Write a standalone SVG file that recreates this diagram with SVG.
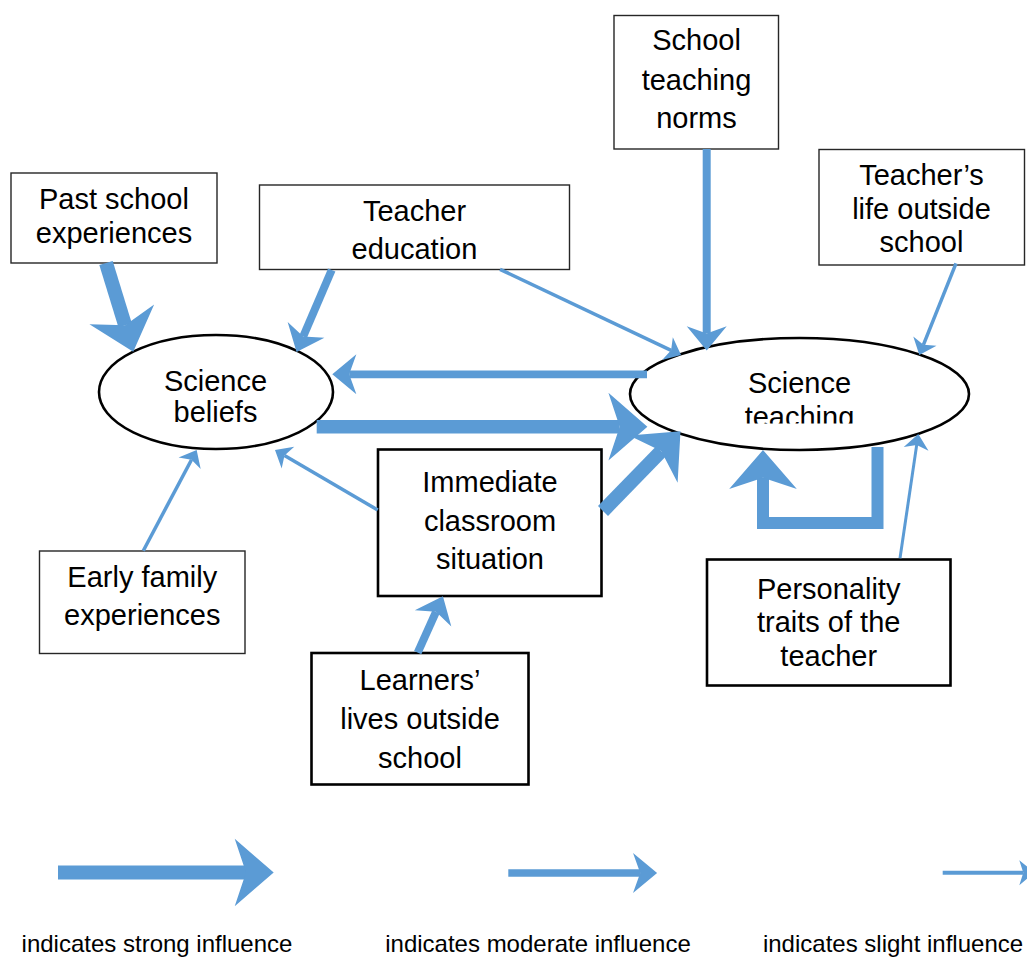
<svg xmlns="http://www.w3.org/2000/svg" width="1027" height="958" viewBox="0 0 1027 958">
<style>
.bg{fill:#ffffff}
.box{fill:#ffffff;stroke:#262626;stroke-width:1.4}
.boxb{fill:#ffffff;stroke:#000000;stroke-width:2.6}
.ell{fill:#ffffff;stroke:#000000;stroke-width:2.6}
text{font-family:"Liberation Sans",Arial,sans-serif;font-size:29px;fill:#000000;text-anchor:middle}
.leg{font-size:24px}
.c{fill:none;stroke:#5B9BD5;stroke-linecap:butt;stroke-linejoin:miter}
.s{stroke-width:14;marker-end:url(#mS)}
.m{stroke-width:8;marker-end:url(#mM)}
.l{stroke-width:3.5;marker-end:url(#mL)}
</style>
<defs>
<marker id="mS" markerUnits="userSpaceOnUse" markerWidth="40" markerHeight="70" viewBox="0 -34 39 68" refX="11" refY="0" orient="auto" overflow="visible">
<path d="M0,-33 L38,0 L0,33 L11,0 Z" fill="#5B9BD5"/>
</marker>
<marker id="mM" markerUnits="userSpaceOnUse" markerWidth="25" markerHeight="41" viewBox="0 -20 24 40" refX="7" refY="0" orient="auto" overflow="visible">
<path d="M0,-19.5 L23.5,0 L0,19.5 L7,0 Z" fill="#5B9BD5"/>
</marker>
<marker id="mL" markerUnits="userSpaceOnUse" markerWidth="16" markerHeight="26" viewBox="0 -13 16 26" refX="4" refY="0" orient="auto" overflow="visible">
<path d="M0,-12.5 L15,0 L0,12.5 L4,0 Z" fill="#5B9BD5"/>
</marker>
<clipPath id="clipTeach"><rect x="690" y="355" width="220" height="68.5"/></clipPath>
</defs>
<rect class="bg" x="0" y="0" width="1027" height="958"/>

<g id="node-past-school">
<rect class="box" x="11" y="173" width="206" height="90"/>
<text x="114" y="209">Past school</text>
<text x="114" y="243">experiences</text>
</g>
<g id="node-teacher-education">
<rect class="box" x="259.5" y="185" width="310" height="84.5"/>
<text x="414.5" y="220.7">Teacher</text>
<text x="414.5" y="259.3">education</text>
</g>
<g id="node-school-norms">
<rect class="box" x="614" y="15.5" width="164.5" height="133.5"/>
<text x="696.5" y="50">School</text>
<text x="696.5" y="89.5">teaching</text>
<text x="696.5" y="128">norms</text>
</g>
<g id="node-teacher-life">
<rect class="box" x="819" y="149.5" width="205.5" height="115.5"/>
<text x="921.5" y="185">Teacher’s</text>
<text x="921.5" y="219">life outside</text>
<text x="921.5" y="252">school</text>
</g>
<g id="node-science-beliefs">
<ellipse class="ell" cx="216" cy="392" rx="117" ry="57"/>
<text x="215.5" y="390.7">Science</text>
<text x="215.5" y="421.7">beliefs</text>
</g>
<g id="node-science-teaching">
<ellipse class="ell" cx="799.5" cy="394" rx="169.5" ry="56"/>
<g clip-path="url(#clipTeach)">
<text x="799.5" y="392.7">Science</text>
<text x="799.5" y="426.7">teaching</text>
</g>
</g>
<g id="node-early-family">
<rect class="box" x="39.5" y="551" width="205.5" height="102.5"/>
<text x="142.3" y="587.3">Early family</text>
<text x="142.3" y="625">experiences</text>
</g>
<g id="node-immediate-classroom">
<rect class="boxb" x="378" y="449.5" width="223.5" height="146.5"/>
<text x="490" y="491.7">Immediate</text>
<text x="490" y="530.7">classroom</text>
<text x="490" y="569.3">situation</text>
</g>
<g id="node-learners">
<rect class="boxb" x="311.5" y="653" width="217" height="131.5"/>
<text x="420" y="690">Learners’</text>
<text x="420" y="729.3">lives outside</text>
<text x="420" y="768.3">school</text>
</g>
<g id="node-personality">
<rect class="boxb" x="707" y="559.5" width="243.5" height="126"/>
<text x="828.7" y="599.3">Personality</text>
<text x="828.7" y="632.3">traits of the</text>
<text x="828.7" y="665.7">teacher</text>
</g>

<g id="connectors">
<line class="c s" x1="106" y1="263" x2="125.1" y2="325.2"/>
<line class="c m" x1="331.7" y1="270" x2="303.2" y2="336.5"/>
<line class="c l" x1="500" y1="269.3" x2="671.1" y2="350.3"/>
<line class="c m" x1="706.7" y1="149" x2="706.7" y2="333.5"/>
<line class="c l" x1="956" y1="263.3" x2="923.4" y2="344.8"/>
<line class="c m" x1="647" y1="374.3" x2="349.2" y2="374.3" style="stroke-width:7.7"/>
<line class="c s" x1="316.7" y1="426.7" x2="619.7" y2="426.7" style="stroke-width:13.5"/>
<line class="c s" x1="603" y1="511" x2="661.2" y2="451.1"/>
<line class="c l" x1="377.7" y1="510" x2="284.5" y2="455.6"/>
<line class="c l" x1="143.3" y1="550.7" x2="191.5" y2="459.7"/>
<line class="c m" x1="417.7" y1="652.7" x2="436" y2="611.8"/>
<line class="c l" x1="900" y1="558.3" x2="916.7" y2="444.9" style="stroke-width:3"/>
<path class="c s" d="M877.5,447 L877.5,523 L763,523 L763,477.7" style="stroke-width:12"/>
</g>

<g id="legend">
<line class="c s" x1="58" y1="872.5" x2="246" y2="872.5"/>
<line class="c m" x1="508.3" y1="873" x2="640.2" y2="873" style="stroke-width:7.5"/>
<line class="c l" x1="942.7" y1="872.7" x2="1023.3" y2="872.7" style="stroke-width:4"/>
<text class="leg" x="157" y="952">indicates strong influence</text>
<text class="leg" x="538" y="952">indicates moderate influence</text>
<text class="leg" x="893" y="952">indicates slight influence</text>
</g>
</svg>
